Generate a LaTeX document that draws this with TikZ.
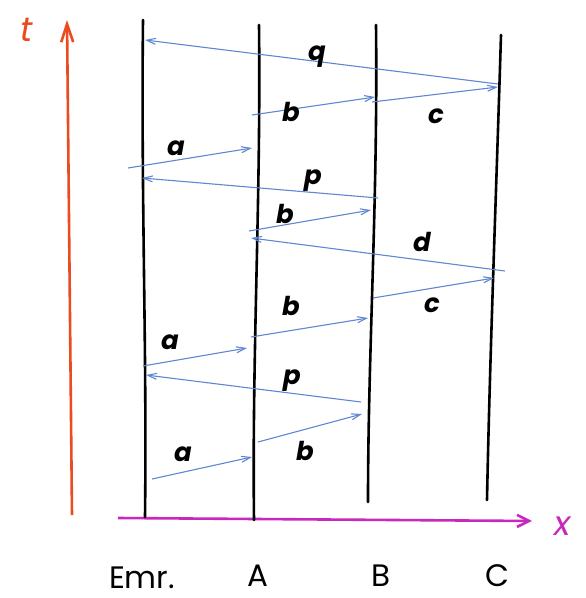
\documentclass[tikz,border=0pt]{standalone}
\usepackage{fontspec}
\setmainfont{Poppins}
\usetikzlibrary{arrows.meta}
\definecolor{msg}{RGB}{95,135,210}
\definecolor{taxis}{RGB}{235,75,30}
\definecolor{xaxis}{RGB}{200,40,190}
\tikzset{
  world/.style={line width=2.6pt, black, line cap=round},
  msgline/.style={msg, line width=1.1pt, -{Straight Barb[length=9pt,width=6pt]}},
  lbl/.style={font=\fontsize{26}{28}\selectfont\bfseries\itshape, inner sep=0pt},
  axlbl/.style={font=\fontsize{34}{36}\selectfont\itshape, inner sep=0pt},
  place/.style={font=\fontsize{31}{33}\selectfont, inner sep=0pt, anchor=base},
}
\begin{document}
\begin{tikzpicture}[x=1pt,y=-1pt]
\useasboundingbox[fill=white] (0,0) rectangle (586,598);
% axes
\draw[taxis, line width=2.6pt, -{Straight Barb[length=18pt,width=12pt]}] (72,515) -- (67,20);
\node[axlbl, text=taxis] (tl) at (27,30) {t};
\draw[xaxis, line width=2.6pt, -{Straight Barb[length=12pt,width=12pt]}] (118,518) -- (532,521);
\node[axlbl, text=xaxis] (xl) at (563,526) {x};
% worldlines
\coordinate (E0) at (143,20); \coordinate (E1) at (145,517);
\coordinate (A0) at (259,25); \coordinate (A1) at (254,520);
\coordinate (B0) at (376,25); \coordinate (B1) at (368,502);
\coordinate (C0) at (501,35); \coordinate (C1) at (487,500);
\draw[world] (E0) .. controls (141,200) and (147,350) .. (E1);
\draw[world] (A0) .. controls (261,200) and (252,350) .. (A1);
\draw[world] (B0) .. controls (378,200) and (368,350) .. (B1);
\draw[world] (C0) .. controls (496,200) and (490,350) .. (C1);
% labels of places
\node[place] (Le) at (142,588) {Emr.};
\node[place] (La) at (258,586) {A};
\node[place] (Lb) at (381,586) {B};
\node[place] (Lc) at (497,586) {C};
% messages
\coordinate (q0) at (498,84); \coordinate (q1) at (145,40);
\draw[msgline] (q0) -- (q1);
\node[lbl] (ql) at (317,57) {q};
\coordinate (b10) at (252,115); \coordinate (b11) at (375,97);
\draw[msgline] (b10) -- (b11);
\node[lbl] (bl1) at (291,112) {b};
\coordinate (c10) at (372,102); \coordinate (c11) at (498,87);
\draw[msgline] (c10) -- (c11);
\node[lbl] (cl1) at (436,116) {c};
\coordinate (a10) at (128,168); \coordinate (a11) at (252,148);
\draw[msgline] (a10) -- (a11);
\node[lbl] (al1) at (176,148) {a};
\coordinate (p10) at (378,198); \coordinate (p11) at (142,178);
\draw[msgline] (p10) -- (p11);
\node[lbl] (pl1) at (313,181) {p};
\coordinate (b20) at (249,231); \coordinate (b21) at (371,210);
\draw[msgline] (b20) -- (b21);
\node[lbl] (bl2) at (285,214) {b};
\coordinate (d0) at (505,271); \coordinate (d1) at (251,238);
\draw[msgline] (d0) -- (d1);
\node[lbl] (dl) at (422,242) {d};
\coordinate (b30) at (251,337); \coordinate (b31) at (368,318);
\draw[msgline] (b30) -- (b31);
\node[lbl] (bl3) at (291,306) {b};
\coordinate (c20) at (373,298); \coordinate (c21) at (494,278);
\draw[msgline] (c20) -- (c21);
\node[lbl] (cl2) at (432,305) {c};
\coordinate (a20) at (143,366); \coordinate (a21) at (247,348);
\draw[msgline] (a20) -- (a21);
\node[lbl] (al2) at (170,342) {a};
\coordinate (p20) at (361,402); \coordinate (p21) at (146,375);
\draw[msgline] (p20) -- (p21);
\node[lbl] (pl2) at (292,381) {p};
\coordinate (a30) at (152,479); \coordinate (a31) at (252,457);
\draw[msgline] (a30) -- (a31);
\node[lbl] (al3) at (183,454) {a};
\coordinate (b40) at (258,442); \coordinate (b41) at (362,414);
\draw[msgline] (b40) -- (b41);
\node[lbl] (bl4) at (305,451) {b};
\end{tikzpicture}
\end{document}
